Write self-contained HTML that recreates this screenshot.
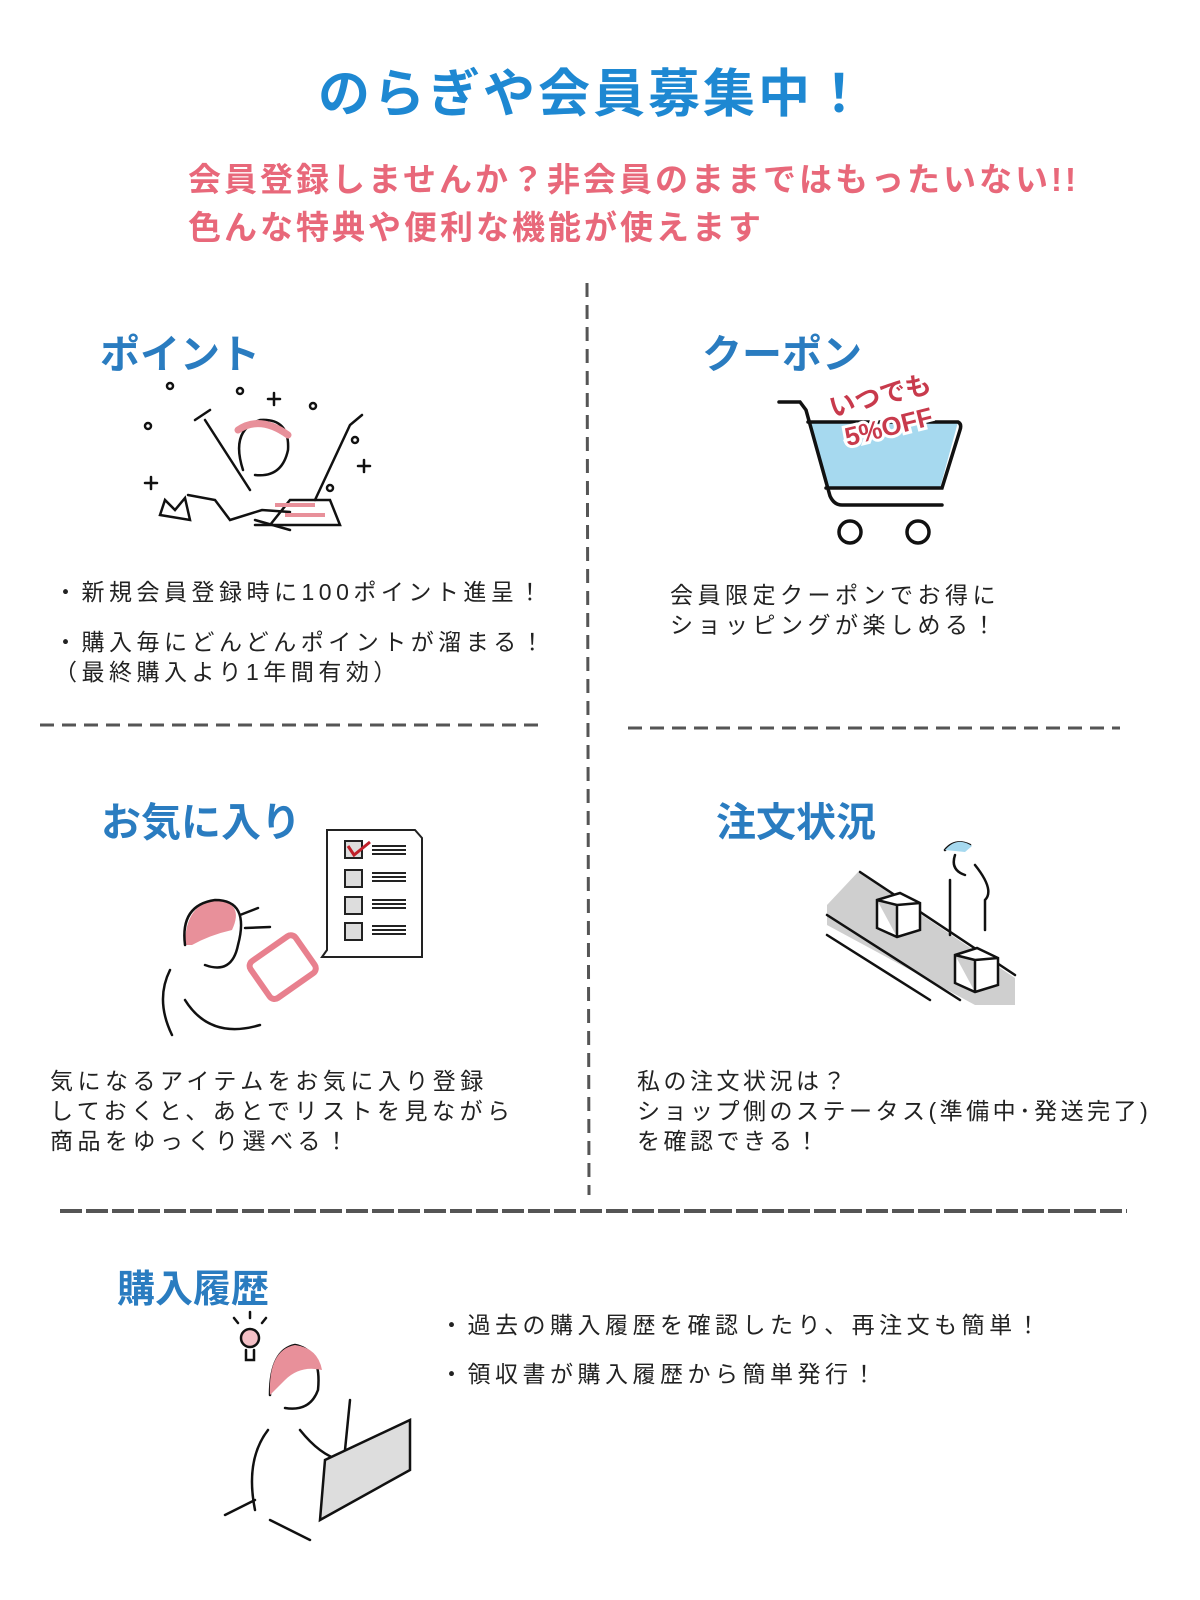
<!DOCTYPE html>
<html><head><meta charset="utf-8"><style>
*{margin:0;padding:0}
body{width:1200px;height:1600px;background:#fff;position:relative;overflow:hidden;font-family:"Liberation Sans","Noto Sans CJK JP",sans-serif}
.t{position:absolute;white-space:nowrap}
.h{font-weight:bold;color:#2a7cc0;font-size:40px}
.b{font-size:23px;color:#222;letter-spacing:4.5px;line-height:30px}
svg{position:absolute;left:0;top:0}
</style></head><body>
<div class="t" style="left:318px;top:52px;font-size:52px;font-weight:bold;color:#1e88d2;letter-spacing:3px">のらぎや会員募集中！</div>
<div class="t" style="left:188px;top:156px;font-size:33px;font-weight:bold;color:#e8687a;line-height:48px;letter-spacing:3px">会員登録しませんか？非会員のままではもったいない!!<br>色んな特典や便利な機能が使えます</div>

<div class="t h" style="left:100px;top:322px">ポイント</div>
<div class="t h" style="left:702px;top:322px">クーポン</div>
<div class="t h" style="left:101px;top:790px">お気に入り</div>
<div class="t h" style="left:716px;top:790px">注文状況</div>
<div class="t h" style="left:117px;top:1258px;font-size:38px">購入履歴</div>

<div class="t b" style="left:54px;top:577px">・新規会員登録時に100ポイント進呈！</div>
<div class="t b" style="left:54px;top:627px">・購入毎にどんどんポイントが溜まる！<br>（最終購入より1年間有効）</div>
<div class="t b" style="left:670px;top:580px">会員限定クーポンでお得に<br>ショッピングが楽しめる！</div>
<div class="t b" style="left:50px;top:1066px">気になるアイテムをお気に入り登録<br>しておくと、あとでリストを見ながら<br>商品をゆっくり選べる！</div>
<div class="t b" style="left:637px;top:1066px;letter-spacing:3.5px">私の注文状況は？<br>ショップ側のステータス(準備中･発送完了)<br>を確認できる！</div>
<div class="t b" style="left:440px;top:1310px">・過去の購入履歴を確認したり、再注文も簡単！</div>
<div class="t b" style="left:440px;top:1359px">・領収書が購入履歴から簡単発行！</div>

<svg width="1200" height="1600">
<g stroke="#555" stroke-width="3" stroke-dasharray="14,8" fill="none">
<line x1="587" y1="283" x2="589" y2="1195"/>
<line x1="40" y1="725" x2="541" y2="725"/>
<line x1="628" y1="728" x2="1120" y2="728"/>
<line x1="60" y1="1211" x2="1127" y2="1211" stroke-width="4" stroke-dasharray="22,4"/>
</g>
<path d="M808 422 L958 422 L940 488 L826 488 Z" fill="#a6d9ef"/>
<g stroke="#111" stroke-width="3.5" fill="none" stroke-linecap="round">
<path d="M779 402 L800 402 L806 410 L830 496 Q834 505 842 505 L942 505"/>
<path d="M808 422 L958 422 Q962 424 960 430 L942 488 L826 488"/>
<circle cx="850" cy="532" r="11"/><circle cx="918" cy="532" r="11"/>
</g>
<g transform="rotate(-14 868 405)" font-weight="bold" fill="#c83a4c" font-size="26" stroke="#fff" stroke-width="6" paint-order="stroke">
<text x="830" y="408">いつでも</text><text x="838" y="440">5%OFF</text></g>
<g stroke="#111" stroke-width="2.5" fill="none" stroke-linecap="round">
<path d="M243 470 Q230 430 260 420 Q290 418 288 450 Q282 478 255 475"/>
<path d="M238 430 Q260 415 288 435" stroke="#e8909a" stroke-width="7"/>
<path d="M205 420 L250 490 M210 410 L195 420 M315 500 L350 425 L362 415"/>
<path d="M188 495 L215 500 L230 520 L262 510 L290 512 M255 520 L290 530"/>
<path d="M270 525 L290 500 L330 500 L340 525 Z M255 525 L335 525"/>
<path d="M160 515 L165 500 L175 510 L185 498 L190 520 Z"/>
<path d="M145 483 h12 M151 477 v12 M268 399 h12 M274 393 v12 M358 466 h12 M364 460 v12"/>
<circle cx="170" cy="386" r="3"/><circle cx="240" cy="391" r="3"/><circle cx="313" cy="406" r="3"/><circle cx="148" cy="426" r="3"/><circle cx="355" cy="440" r="3"/><circle cx="330" cy="488" r="3"/>
</g>
<path d="M275 505 h40 M285 515 h40" stroke="#e8909a" stroke-width="4"/>
<g stroke="#222" stroke-width="2" fill="none">
<path d="M327 830 L415 830 L422 838 L422 957 L322 957 L327 950 Z" fill="#fff"/>
<rect x="345" y="841" width="17" height="17" fill="#ddd"/><rect x="345" y="870" width="17" height="17" fill="#ddd"/><rect x="345" y="897" width="17" height="17" fill="#ddd"/><rect x="345" y="923" width="17" height="17" fill="#ddd"/>
<path d="M372 846h34M372 850h34M372 854h34M372 873h34M372 877h34M372 881h34M372 900h34M372 904h34M372 908h34M372 926h34M372 930h34M372 934h34"/>
</g>
<path d="M348 846 L354 855 L370 842" stroke="#c0202a" stroke-width="3" fill="none"/>
<path d="M185 945 Q185 905 215 900 Q245 902 232 930 Q210 935 192 945 Z" fill="#e8909a"/>
<g stroke="#111" stroke-width="2.5" fill="none" stroke-linecap="round">
<path d="M185 945 Q180 905 215 900 Q250 900 238 945 Q232 975 205 965"/>
<path d="M170 970 Q155 1000 172 1035 M185 1000 Q210 1040 260 1025"/>
<path d="M240 915 L258 908 M245 928 L270 927"/>
</g>
<rect x="255" y="945" width="55" height="45" rx="6" transform="rotate(-35 282 967)" fill="#fff" stroke="#e8808e" stroke-width="6"/>
<path d="M827 905 L858 872 L1015 978 L1015 1005 L975 1005 L827 925 Z" fill="#cfcfcf"/>
<g stroke="#111" stroke-width="2.5" fill="none" stroke-linecap="round">
<path d="M860 872 L1015 975 M827 915 L960 1000 M827 935 L930 1000"/>
<path d="M877 900 L900 893 L920 903 L920 930 L897 937 L877 928 Z M897 937 L897 905 L877 900 M897 905 L920 903" fill="#fff"/>
<path d="M955 955 L977 948 L998 958 L998 985 L975 992 L955 983 Z M975 992 L975 960 L955 955 M975 960 L998 958" fill="#fff"/>
<path d="M945 850 Q955 838 970 845 M955 855 Q950 870 965 875 M975 865 Q995 890 985 900 L985 930 M950 880 L950 935"/>
</g>
<path d="M945 850 Q957 836 972 846 L965 852 Z" fill="#a6d9ef"/>
<g stroke="#111" stroke-width="2.5" fill="none" stroke-linecap="round">
<circle cx="250" cy="1338" r="9" fill="#f4c0c6"/>
<path d="M246 1350 v10 h8 v-10 M250 1318 v-6 M238 1323 l-4 -5 M262 1323 l4 -5"/>
<path d="M270 1395 Q270 1350 295 1345 Q322 1350 318 1390 Q310 1412 285 1408"/>
<path d="M268 1430 Q245 1460 255 1510 M300 1430 Q320 1455 340 1460 M345 1450 L350 1400"/>
<path d="M225 1515 L255 1500 M270 1520 L310 1540"/>
<path d="M320 1520 L410 1470 L410 1420 L325 1460 Z" fill="#ddd"/>
</g>
<path d="M270 1395 Q268 1350 295 1345 Q318 1348 322 1370 Q300 1365 285 1380 Z" fill="#e8909a"/>
</svg>
</body></html>
